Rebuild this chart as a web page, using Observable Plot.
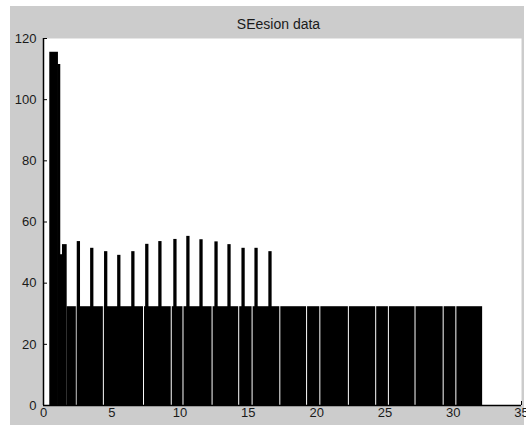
<!DOCTYPE html>
<html>
<head>
<meta charset="utf-8">
<script src="https://cdn.jsdelivr.net/npm/d3@7"></script>
<script src="https://cdn.jsdelivr.net/npm/@observablehq/plot@0.6"></script>
<style>
  html, body { margin: 0; padding: 0; background: #ffffff; }
</style>
</head>
<body>
<div id="chart"></div>
<script>
// ---- data ----
const chartTitle = "SEesion data";

// early tall bars near x = 0.5 .. 1.7
const earlyStart = [0.46, 1.05, 1.22, 1.39];
const earlyEnd   = [1.05, 1.22, 1.39, 1.69];
const earlyValue = [115.5, 111.5, 49.3, 52.6];

// flat base block (value ~32) split by thin gaps
const baseEdges = [1.69, 2.44, 4.42, 7.36, 9.39, 10.25, 12.38, 14.33, 15.31, 17.34,
                   19.3, 20.27, 22.36, 24.36, 25.29, 27.24, 29.3, 30.23, 32.19];
const baseValue = 32.3;

// thin spikes
const spikeStart = [2.47, 3.45, 4.47, 5.43, 6.46, 7.48, 8.44, 9.54, 10.49, 11.45,
                    12.55, 13.5, 14.53, 15.48, 16.5];
const spikeValue = [53.6, 51.4, 50.3, 49.1, 50.3, 52.7, 53.6, 54.3, 55.3, 54.2,
                    53.5, 52.6, 51.4, 51.4, 50.3];

const xTicks = [0, 5, 10, 15, 20, 25, 30, 35];
const yTicks = [0, 20, 40, 60, 80, 100, 120];

// ---- tables built from the arrays ----
const earlyBars = earlyStart.map((s, i) => ({x1: s, x2: earlyEnd[i], y: earlyValue[i]}));
const baseBars = baseEdges.slice(0, -1).map((s, i) => ({x1: s, x2: baseEdges[i + 1], y: baseValue}));
const spikeWidth = 0.24;
const spikes = spikeStart.map((s, i) => ({x1: s, x2: s + spikeWidth, y: spikeValue[i]}));

const font = "'Liberation Sans', Arial, sans-serif";

const svg = Plot.plot({
  width: 526,
  height: 425,
  marginLeft: 43,
  marginRight: 5,
  marginTop: 38,
  marginBottom: 20,
  style: {background: "transparent", fontFamily: font, fontSize: "13px", color: "#1a1a1a"},
  x: {domain: [0, 35], ticks: xTicks},
  y: {domain: [0, 120], ticks: yTicks},
  marks: [
    Plot.frame({fill: "white", stroke: "none"}),
    Plot.rectY(baseBars, {x1: "x1", x2: "x2", y: "y", fill: "black", insetLeft: 0.5, insetRight: 0.5}),
    Plot.rectY(spikes, {x1: "x1", x2: "x2", y: "y", fill: "black"}),
    Plot.rectY(earlyBars, {x1: "x1", x2: "x2", y: "y", fill: "black", insetRight: -0.6}),
    Plot.ruleX([0], {stroke: "black", strokeWidth: 1.5}),
    Plot.ruleY([0], {stroke: "black", strokeWidth: 1.5}),
    Plot.axisX({ticks: xTicks, tickSize: -4, tickPadding: 6, label: null, stroke: "black", fill: "#1a1a1a", fontSize: 13}),
    Plot.axisY({ticks: yTicks, tickSize: -4, tickPadding: 11, label: null, stroke: "black", fill: "#1a1a1a", fontSize: 13}),
    Plot.text([chartTitle], {frameAnchor: "top", dy: -10, dx: -4, lineAnchor: "bottom", fontSize: 14, fill: "#1a1a1a"})
  ]
});

// grey figure background behind everything (decoration)
d3.select(svg).insert("rect", ":first-child")
  .attr("x", 10).attr("y", 6).attr("width", 514).attr("height", 419)
  .attr("fill", "#cccccc");
d3.select(svg).style("background", "white");

document.getElementById("chart").appendChild(svg);
</script>
</body>
</html>
